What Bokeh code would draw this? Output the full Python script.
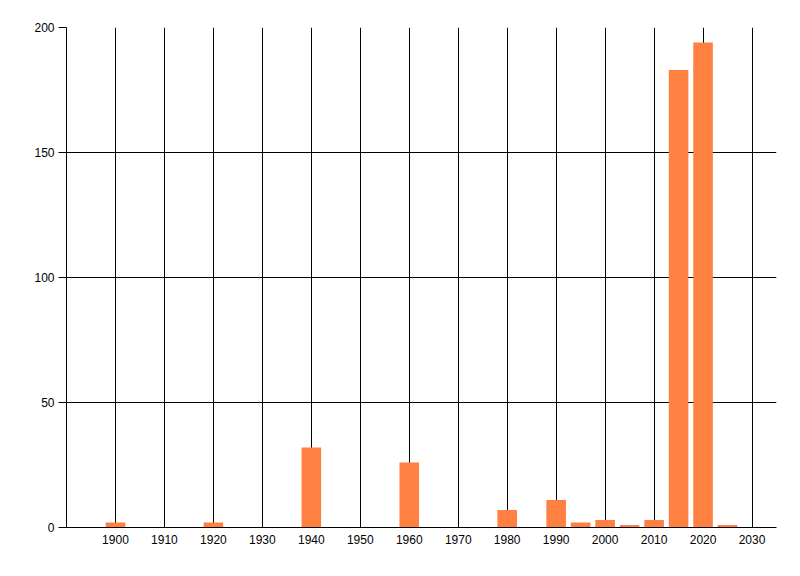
from bokeh.plotting import figure
from bokeh.models import FixedTicker, Range1d, ColumnDataSource
from bokeh.embed import file_html
from bokeh.resources import INLINE

years = [1900, 1920, 1940, 1960, 1980, 1990, 1995, 2000, 2005, 2010, 2015, 2020, 2025]
counts = [2, 2, 32, 26, 7, 11, 2, 3, 1, 3, 183, 194, 1]
x_ticks = list(range(1900, 2031, 10))
y_ticks = [0, 50, 100, 150, 200]

src = ColumnDataSource(dict(x=years, top=counts))

p = figure(width=792, height=568, output_backend="svg", toolbar_location=None,
           x_range=Range1d(1890, 2035), y_range=Range1d(0, 200),
           min_border_left=66, min_border_right=16, min_border_top=27, min_border_bottom=41)
p.vbar(x="x", top="top", width=4, bottom=0, source=src, color="#FF8040", line_color=None)

p.outline_line_color = None
p.background_fill_color = "white"
p.border_fill_color = "white"

p.xaxis.ticker = FixedTicker(ticks=x_ticks)
p.yaxis.ticker = FixedTicker(ticks=y_ticks)
for ax in (p.xaxis, p.yaxis):
    ax.axis_line_color = "black"
    ax.axis_line_width = 1
    ax.major_tick_line_color = "black"
    ax.minor_tick_line_color = None
    ax.major_tick_in = 0
    ax.major_label_text_font = "Liberation Sans"
    ax.major_label_text_font_size = "12px"
    ax.major_label_text_color = "black"
p.xaxis.major_tick_out = 0
p.xaxis.major_label_standoff = 7
p.yaxis.major_tick_out = 8
p.yaxis.major_label_standoff = 4

p.xgrid.grid_line_color = "black"
p.ygrid.grid_line_color = "black"
p.xgrid.grid_line_alpha = 1
p.ygrid.grid_line_alpha = 1

open("out.html", "w").write(file_html(p, INLINE))
